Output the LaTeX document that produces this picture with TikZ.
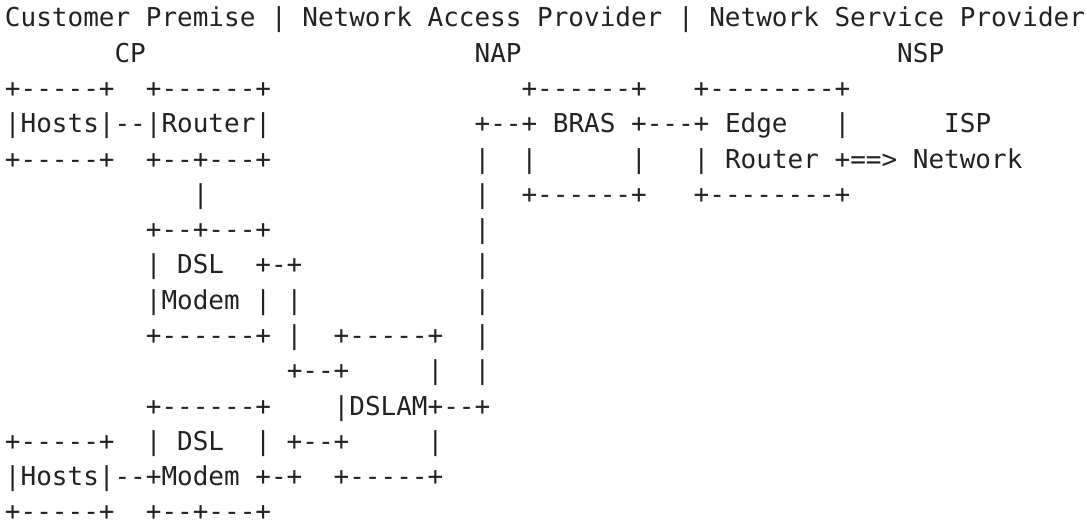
\documentclass[tikz,border=0pt]{standalone}
\usepackage{fontspec}
\setmonofont{DejaVu Sans Mono}
\definecolor{ink}{RGB}{34,34,34}
\begin{document}
\begin{tikzpicture}[x=1pt,y=1pt,
  ln/.style={anchor=base west, inner sep=0pt, outer sep=0pt, text depth=0pt,
    font=\ttfamily\fontsize{26}{35.3}\selectfont, text=ink}]
\useasboundingbox (0,0) rectangle (1087,527);
\node[ln] (l1)  at (5,500)    {Customer~Premise~|~Network~Access~Provider~|~Network~Service~Provider};
\node[ln] (l2)  at (5,464.7)  {~~~~~~~CP~~~~~~~~~~~~~~~~~~~~~NAP~~~~~~~~~~~~~~~~~~~~~~~~NSP};
\node[ln] (l3)  at (5,429.4)  {+-----+~~+------+~~~~~~~~~~~~~~~~+------+~~~+--------+};
\node[ln] (l4)  at (5,394.1)  {|Hosts|--|Router|~~~~~~~~~~~~~+--+~BRAS~+---+~Edge~~~|~~~~~~ISP};
\node[ln] (l5)  at (5,358.9)  {+-----+~~+--+---+~~~~~~~~~~~~~|~~|~~~~~~|~~~|~Router~+==>~Network};
\node[ln] (l6)  at (5,323.6)  {~~~~~~~~~~~~|~~~~~~~~~~~~~~~~~|~~+------+~~~+--------+};
\node[ln] (l7)  at (5,288.3)  {~~~~~~~~~+--+---+~~~~~~~~~~~~~|};
\node[ln] (l8)  at (5,253)    {~~~~~~~~~|~DSL~~+-+~~~~~~~~~~~|};
\node[ln] (l9)  at (5,217.7)  {~~~~~~~~~|Modem~|~|~~~~~~~~~~~|};
\node[ln] (l10) at (5,182.4)  {~~~~~~~~~+------+~|~~+-----+~~|};
\node[ln] (l11) at (5,147.1)  {~~~~~~~~~~~~~~~~~~+--+~~~~~|~~|};
\node[ln] (l12) at (5,111.9)  {~~~~~~~~~+------+~~~~|DSLAM+--+};
\node[ln] (l13) at (5,76.6)   {+-----+~~|~DSL~~|~+--+~~~~~|};
\node[ln] (l14) at (5,41.3)   {|Hosts|--+Modem~+-+~~+-----+};
\node[ln] (l15) at (5,6)      {+-----+~~+--+---+};
\end{tikzpicture}
\end{document}
